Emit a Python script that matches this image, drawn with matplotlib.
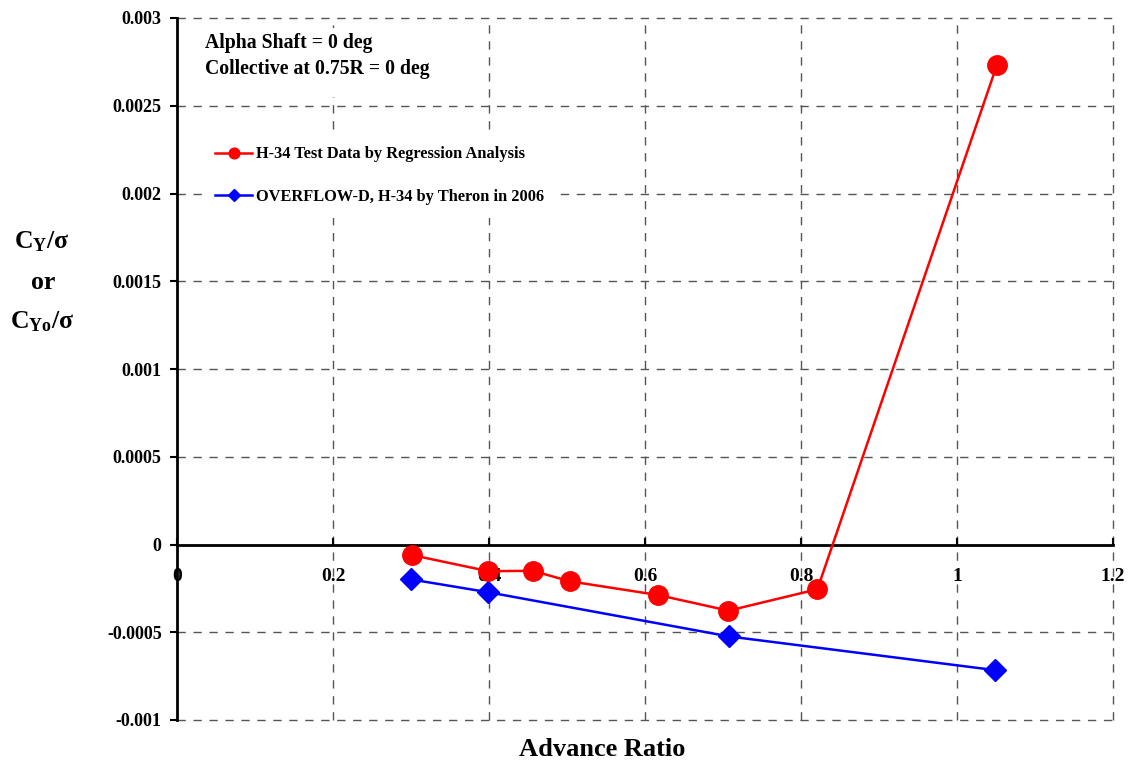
import numpy as np
import matplotlib.pyplot as plt
from matplotlib.patches import Rectangle

plt.rcParams['font.family'] = ['Liberation Serif', 'DejaVu Serif']
plt.rcParams['font.weight'] = 'bold'
plt.rcParams['mathtext.fontset'] = 'custom'
plt.rcParams['mathtext.rm'] = 'Liberation Serif:bold'
plt.rcParams['mathtext.it'] = 'Liberation Serif:bold'
plt.rcParams['mathtext.bf'] = 'Liberation Serif:bold'

# === 数据 ===
mu_test = [0.301, 0.399, 0.456, 0.504, 0.617, 0.707, 0.821, 1.051]
cy_test = [-0.00006, -0.000152, -0.000150, -0.000210, -0.000288, -0.000377, -0.000255, 0.00273]

mu_cfd = [0.300, 0.399, 0.708, 1.049]
cy_cfd = [-0.000199, -0.000272, -0.000524, -0.000716]

label_test = "H-34 Test Data by Regression Analysis"
label_cfd = "OVERFLOW-D, H-34 by Theron in 2006"

x_ticks = [0, 0.2, 0.4, 0.6, 0.8, 1, 1.2]
x_tick_labels = ["0", "0.2", "0.4", "0.6", "0.8", "1", "1.2"]
y_ticks = [-0.001, -0.0005, 0, 0.0005, 0.001, 0.0015, 0.002, 0.0025, 0.003]
y_tick_labels = ["-0.001", "-0.0005", "0", "0.0005", "0.001", "0.0015", "0.002", "0.0025", "0.003"]

fig = plt.figure(figsize=(11.3, 7.63), dpi=100)
ax = fig.add_axes([177/1130, 1-720/763, (1113-177)/1130, (720-18)/763])

ax.set_xlim(0, 1.2)
ax.set_ylim(-0.001, 0.003)

# 网格 (虚线), 包括外框
grid_kw = dict(color='#555555', lw=1.0, linestyle=(0, (6, 5.5)), zorder=1, clip_on=False)
for xv in x_ticks[1:]:
    ax.axvline(xv, **grid_kw)
for yv in y_ticks:
    if yv != 0:
        ax.axhline(yv, **grid_kw)

for s in ['top', 'right']:
    ax.spines[s].set_visible(False)
ax.spines['left'].set_linewidth(2.0)
ax.spines['bottom'].set_position(('data', 0))
ax.spines['bottom'].set_linewidth(2.0)

ax.set_xticks(x_ticks)
ax.set_xticklabels(x_tick_labels)
ax.set_yticks(y_ticks)
ax.set_yticklabels(y_tick_labels)
ax.tick_params(axis='x', direction='in', length=5, width=1.5, pad=17, labelsize=14)
ax.tick_params(axis='y', direction='out', length=5, width=1.5, pad=6, labelsize=13)
for t in ax.get_xticklabels() + ax.get_yticklabels():
    t.set_fontweight('bold')

ax.plot(mu_test, cy_test, color='red', lw=1.8, marker='o', markersize=14,
        label=label_test, zorder=4, clip_on=False)
ax.plot(mu_cfd, cy_cfd, color='blue', lw=1.8, marker='D', markersize=11,
        label=label_cfd, zorder=3, clip_on=False)

leg = ax.legend(loc='upper left', bbox_to_anchor=(0.027, 0.836), frameon=True,
                facecolor='white', edgecolor='none', framealpha=1, fancybox=False,
                prop=dict(family='Liberation Serif', weight='bold', size=11.8),
                markerscale=0.55, handlelength=2.25, handletextpad=0.2,
                labelspacing=1.63, borderaxespad=0, borderpad=0.8)
leg.set_zorder(5)

# 注释文字的白底
ax.add_patch(Rectangle((0.014, 0.887), 0.28, 0.099, transform=ax.transAxes,
                       facecolor='white', edgecolor='none', zorder=2))
ax.text(0.03, 0.965, "Alpha Shaft = 0 deg", transform=ax.transAxes,
        fontsize=14.2, fontweight='bold', va='center', ha='left', zorder=6)
ax.text(0.03, 0.927, "Collective at 0.75R = 0 deg", transform=ax.transAxes,
        fontsize=14.2, fontweight='bold', va='center', ha='left', zorder=6)

fig.text(602/1130, 1-749/763, "Advance Ratio", fontsize=19, fontweight='bold',
         ha='center', va='center')

fig.text(42/1130, 1-242/763, r"$\mathrm{C_{Y}/σ}$", fontsize=18.5, ha='center', va='center')
fig.text(43/1130, 1-282/763, "or", fontsize=18.5, fontweight='bold', ha='center', va='center')
fig.text(42/1130, 1-322/763, r"$\mathrm{C_{Yo}/σ}$", fontsize=18.5, ha='center', va='center')

fig.savefig('out.png', dpi=100)
